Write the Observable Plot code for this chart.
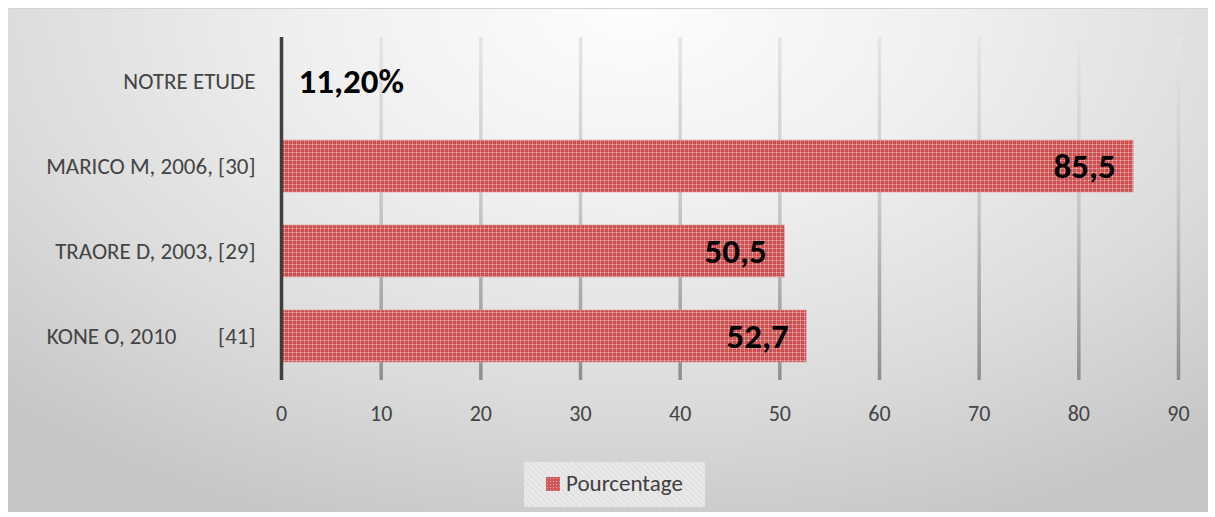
<!DOCTYPE html>
<html>
<head>
<meta charset="utf-8">
<script src="https://cdn.jsdelivr.net/npm/d3@7"></script>
<script src="https://cdn.jsdelivr.net/npm/@observablehq/plot@0.6"></script>
<style>
  html, body { margin: 0; padding: 0; background: #fff; }
  #wrap { position: relative; width: 1215px; height: 517px; overflow: hidden; font-family: Carlito, Calibri, Lato, sans-serif; }
  #bg { position: absolute; left: 8px; top: 8px; width: 1200px; height: 503px;
        border-top: 1px solid #d4d4d4;
        background: radial-gradient(ellipse 75% 110% at 52% 0%, #fdfdfd 0%, #f0f0f0 35%, #dcdcdc 70%, #c6c6c6 100%); }
  #chart { position: absolute; left: 0; top: 0; }
  #legend { position: absolute; left: 524px; top: 462px; width: 181px; height: 45px;
            background: repeating-linear-gradient(45deg, #e9e9e9 0 2px, #e2e2e2 2px 4px);
            font-size: 23px; color: #404040; }
  #legend .sw { position: absolute; left: 22px; top: 15px; width: 14px; height: 14px; background: #cf5a5a;
            background-image: radial-gradient(#e59a9a 30%, transparent 31%); background-size: 3px 3px; }
  #legend .tx { position: absolute; left: 42px; top: 7px; white-space: nowrap; }
</style>
</head>
<body>
<div id="wrap">
  <div id="bg"></div>
  <div id="chart"></div>
  <div id="legend"><span class="sw"></span><span class="tx" id="legendText"></span></div>
</div>
<script>
const categories = ["NOTRE ETUDE", "MARICO M, 2006, [30]", "TRAORE D, 2003, [29]", "KONE O, 2010\u00a0\u00a0\u00a0\u00a0\u00a0\u00a0\u00a0\u00a0[41]"];
const values = [0.112, 85.5, 50.5, 52.7];
const valueLabels = ["11,20%", "85,5", "50,5", "52,7"];
const xTicks = [0, 10, 20, 30, 40, 50, 60, 70, 80, 90];
const seriesName = "Pourcentage";

document.getElementById("legendText").textContent = seriesName;

const data = categories.map((c, i) => ({cat: c, v: values[i], label: valueLabels[i]}));
const font = "Carlito, Calibri, Lato, sans-serif";

const plot = Plot.plot({
  width: 1215,
  height: 517,
  marginLeft: 281,
  marginRight: 37,
  marginTop: 37,
  marginBottom: 137,
  style: {background: "transparent", fontFamily: font, color: "#444"},
  x: {domain: [0, 90], axis: null},
  y: {domain: categories, paddingInner: 0.39, paddingOuter: 0.195},
  marks: [
    Plot.ruleX(xTicks.filter(d => d > 0), {stroke: "url(#gridGrad)", strokeWidth: 3.5}),
    Plot.barX(data, {y: "cat", x: "v", fill: "url(#barPat)", stroke: "#e09a9a", strokeWidth: 0.6}),
    Plot.ruleX([0], {stroke: "#3f3f3f", strokeWidth: 3.5}),
    Plot.text(data.filter(d => d.v >= 5), {y: "cat", x: "v", text: "label", textAnchor: "end", dx: -18, fontSize: 35, fontWeight: "bold", fill: "#000"}),
    Plot.text(data.filter(d => d.v < 5), {y: "cat", x: "v", text: "label", textAnchor: "start", dx: 16, fontSize: 35, fontWeight: "bold", fill: "#000"}),
    Plot.text(xTicks, {x: d => d, frameAnchor: "bottom", dy: 40, text: d => String(d), fontSize: 22, fill: "#444"}),
    Plot.axisY({tickSize: 0, tickPadding: 26, fontSize: 23, fill: "#444", label: null})
  ]
});

const svg = d3.select(plot);
svg.selectAll('[aria-label="y-axis tick label"]').attr("font-size", 23);
const defs = svg.insert("defs", ":first-child");
const g = defs.append("linearGradient").attr("id", "gridGrad")
  .attr("gradientUnits", "userSpaceOnUse").attr("x1", 0).attr("x2", 0).attr("y1", 37).attr("y2", 380);
g.append("stop").attr("offset", "0%").attr("stop-color", "#e6e6e6");
g.append("stop").attr("offset", "50%").attr("stop-color", "#c6c6c6");
g.append("stop").attr("offset", "100%").attr("stop-color", "#8e8e8e");
const p = defs.append("pattern").attr("id", "barPat").attr("patternUnits", "userSpaceOnUse")
  .attr("width", 4).attr("height", 4);
p.append("rect").attr("width", 4).attr("height", 4).attr("fill", "#c94a4a");
p.append("rect").attr("x", 0).attr("y", 0).attr("width", 4).attr("height", 1).attr("fill", "#dd8282");
p.append("rect").attr("x", 0).attr("y", 0).attr("width", 1).attr("height", 4).attr("fill", "#dd8282");
p.append("rect").attr("x", 0).attr("y", 0).attr("width", 1).attr("height", 1).attr("fill", "#efb4b4");
p.append("rect").attr("x", 2).attr("y", 2).attr("width", 1).attr("height", 1).attr("fill", "#d46a6a");

document.getElementById("chart").appendChild(plot);
</script>
</body>
</html>
